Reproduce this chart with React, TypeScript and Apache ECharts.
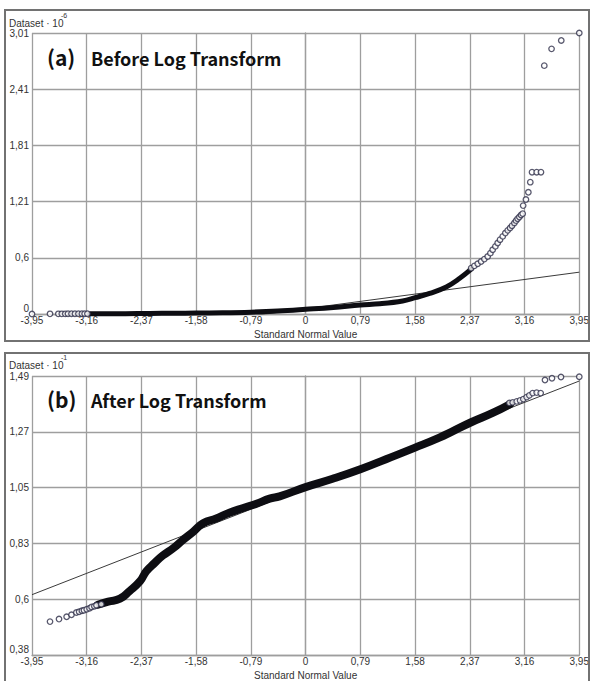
import React, { useEffect, useRef } from "react";
import * as echarts from "echarts";

// ---- axes ----
const xTickLabels = ["-3,95", "-3,16", "-2,37", "-1,58", "-0,79", "0", "0,79", "1,58", "2,37", "3,16", "3,95"];
const xMin = -3.95;
const xMax = 3.95;
const xStep = 0.79;

const aTickLabels = ["0", "0,6", "1,21", "1,81", "2,41", "3,01"];
const aMin = 0;
const aMax = 3.01;
const aStep = 0.602;

const bTickLabels = ["0,38", "0,6", "0,83", "1,05", "1,27", "1,49"];
const bMin = 0.38;
const bMax = 1.49;
const bStep = 0.222;

// ---- panel (a): before log transform ----
const aDenseX = [-3.11, -2.6, -2.25, -1.9, -1.58, -1.2, -0.79, -0.4, 0, 0.4, 0.79, 1.07, 1.4, 1.58, 1.79, 2.03, 2.22, 2.39];
const aDenseY = [0.003, 0.004, 0.006, 0.008, 0.01, 0.013, 0.02, 0.032, 0.05, 0.07, 0.097, 0.11, 0.14, 0.175, 0.22, 0.29, 0.38, 0.48];

const aPointX = [-3.95, -3.69, -3.57, -3.52, -3.47, -3.43, -3.38, -3.33, -3.28, -3.23, -3.19, -3.15,
  2.389, 2.436, 2.484, 2.533, 2.58, 2.628, 2.667, 2.7, 2.739, 2.772, 2.806, 2.845, 2.883, 2.917, 2.951, 2.979,
  3.013, 3.037, 3.06, 3.085, 3.109, 3.133, 3.14, 3.18, 3.215, 3.243, 3.268, 3.335, 3.397, 3.445, 3.55, 3.69, 3.95];
const aPointY = [0, 0.002, 0.002, 0.002, 0.002, 0.003, 0.003, 0.003, 0.003, 0.003, 0.003, 0.003,
  0.491, 0.516, 0.538, 0.562, 0.588, 0.616, 0.652, 0.688, 0.724, 0.76, 0.796, 0.831, 0.867, 0.896, 0.921, 0.946,
  0.975, 1.0, 1.021, 1.039, 1.061, 1.075, 1.161, 1.226, 1.304, 1.412, 1.519, 1.519, 1.519, 2.66, 2.84, 2.93, 3.01];

const aRefX = [-3.95, 3.95];
const aRefY = [-0.334, 0.448];

// ---- panel (b): after log transform ----
const bDenseX = [-3.0, -2.85, -2.68, -2.54, -2.39, -2.3, -2.18, -2.06, -1.91, -1.77, -1.62, -1.48, -1.29, -1.1, -0.9, -0.71, -0.52, -0.375, 0, 0.39, 0.8, 1.16, 1.58, 1.93, 2.12, 2.39, 2.7, 2.95];
const bDenseY = [0.58, 0.592, 0.604, 0.635, 0.674, 0.713, 0.746, 0.776, 0.805, 0.838, 0.871, 0.904, 0.923, 0.946, 0.965, 0.982, 1.002, 1.011, 1.048, 1.081, 1.12, 1.159, 1.205, 1.245, 1.27, 1.306, 1.343, 1.378];

const bPointX = [-3.69, -3.56, -3.45, -3.38, -3.31, -3.27, -3.23, -3.2, -3.16, -3.12, -3.09, -3.05, -3.02, -2.95,
  2.941, 2.989, 3.047, 3.095, 3.142, 3.19, 3.229, 3.277, 3.335, 3.393, 3.455, 3.556, 3.686, 3.95];
const bPointY = [0.513, 0.523, 0.532, 0.54, 0.549, 0.552, 0.556, 0.558, 0.562, 0.566, 0.571, 0.574, 0.578, 0.582,
  1.383, 1.385, 1.389, 1.393, 1.398, 1.406, 1.413, 1.422, 1.424, 1.422, 1.474, 1.481, 1.486, 1.487];

const bRefX = [-3.95, 3.95];
const bRefY = [0.62, 1.47];

const FONT = "Liberation Sans, Arial, sans-serif";
const TITLE_FONT = "Noto Sans CJK KR, Noto Sans, sans-serif";
const GRID_COLOR = "#9e9e9e";
const TEXT_COLOR = "#333";
const DOT_COLOR = "#2e2e48";

const zip = (xs: number[], ys: number[], off = 0) => xs.map((x, i) => [x, +(ys[i] - off).toFixed(4)]);

function xAxisFor(gridIndex: number) {
  return {
    type: "value",
    gridIndex,
    min: xMin,
    max: xMax,
    interval: xStep,
    name: "Standard Normal Value",
    nameLocation: "middle",
    nameGap: 15,
    nameTextStyle: { fontFamily: FONT, fontSize: 10, color: TEXT_COLOR },
    axisLine: { show: true, lineStyle: { color: GRID_COLOR, width: 1.3 } },
    axisTick: { show: false },
    splitLine: { show: true, lineStyle: { color: GRID_COLOR, width: 1.3 } },
    axisLabel: {
      showMinLabel: true,
      showMaxLabel: true,
      margin: 1,
      fontFamily: FONT,
      fontSize: 10,
      color: TEXT_COLOR,
      formatter: (v: number) => xTickLabels[Math.round((v - xMin) / xStep)] ?? "",
    },
  };
}

function yAxisFor(gridIndex: number, max: number, step: number, labels: string[]) {
  return {
    type: "value",
    gridIndex,
    min: 0,
    max,
    interval: step,
    axisLine: { show: true, lineStyle: { color: GRID_COLOR, width: 1.3 } },
    axisTick: { show: false },
    splitLine: { show: true, lineStyle: { color: GRID_COLOR, width: 1.3 } },
    axisLabel: {
      showMinLabel: true,
      showMaxLabel: true,
      margin: 3,
      fontFamily: FONT,
      fontSize: 10,
      color: TEXT_COLOR,
      formatter: (v: number) => {
        const i = Math.round(v / step);
        const t = labels[i] ?? "";
        return i === 0 ? "{lo|" + t + "}" : t;
      },
      rich: {
        lo: { fontFamily: FONT, fontSize: 10, color: TEXT_COLOR, padding: [0, 0, 11, 0] },
      },
    },
  };
}

export default function App() {
  const ref = useRef<HTMLDivElement>(null);
  useEffect(() => {
    const chart = echarts.init(ref.current!, null, { renderer: "svg" });
    const bRange = +(bMax - bMin).toFixed(3);
    const option: any = {
      animation: false,
      backgroundColor: "#fff",
      grid: [
        { left: 32, top: 33, width: 548, height: 281 },
        { left: 32, top: 376, width: 548, height: 282 },
      ],
      xAxis: [xAxisFor(0), xAxisFor(1)],
      yAxis: [
        yAxisFor(0, aMax - aMin, aStep, aTickLabels),
        yAxisFor(1, bRange, bStep, bTickLabels),
      ],
      series: [
        {
          type: "line", xAxisIndex: 0, yAxisIndex: 0, data: zip(aRefX, aRefY),
          showSymbol: false, clip: true, lineStyle: { color: "#3a3a3a", width: 1 }, z: 2,
        },
        {
          type: "line", xAxisIndex: 0, yAxisIndex: 0, data: zip(aDenseX, aDenseY),
          showSymbol: false, clip: false, smooth: 0.4,
          lineStyle: { color: "#0d0d12", width: 5, cap: "round", join: "round" }, z: 3,
        },
        {
          type: "scatter", xAxisIndex: 0, yAxisIndex: 0, data: zip(aPointX, aPointY),
          symbol: "circle", symbolSize: 5.5, clip: false,
          itemStyle: { color: "#fff", borderColor: DOT_COLOR, borderWidth: 1.3 }, z: 4,
        },
        {
          type: "line", xAxisIndex: 1, yAxisIndex: 1, data: zip(bRefX, bRefY, bMin),
          showSymbol: false, clip: true, lineStyle: { color: "#3a3a3a", width: 1 }, z: 2,
        },
        {
          type: "line", xAxisIndex: 1, yAxisIndex: 1, data: zip(bDenseX, bDenseY, bMin),
          showSymbol: false, clip: false, smooth: 0.5,
          lineStyle: { color: "#0d0d12", width: 8, cap: "round", join: "round" }, z: 3,
        },
        {
          type: "scatter", xAxisIndex: 1, yAxisIndex: 1, data: zip(bPointX, bPointY, bMin),
          symbol: "circle", symbolSize: 5.5, clip: false,
          itemStyle: { color: "#fff", borderColor: DOT_COLOR, borderWidth: 1.3 }, z: 4,
        },
      ],
      graphic: [
        { type: "rect", shape: { x: 5, y: 10, width: 584, height: 331 }, style: { fill: "none", stroke: "#727272", lineWidth: 2 }, z: 10 },
        { type: "rect", shape: { x: 5, y: 353, width: 584, height: 340 }, style: { fill: "none", stroke: "#727272", lineWidth: 2 }, z: 10 },
        { type: "text", x: 9, y: 23, style: { text: "Dataset · 10", fontFamily: FONT, fontSize: 10, fill: TEXT_COLOR, verticalAlign: "middle" }, z: 10 },
        { type: "text", x: 61, y: 15, style: { text: "-6", fontFamily: FONT, fontSize: 7, fill: TEXT_COLOR, verticalAlign: "middle" }, z: 10 },
        { type: "text", x: 9, y: 365, style: { text: "Dataset · 10", fontFamily: FONT, fontSize: 10, fill: TEXT_COLOR, verticalAlign: "middle" }, z: 10 },
        { type: "text", x: 61, y: 357, style: { text: "-1", fontFamily: FONT, fontSize: 7, fill: TEXT_COLOR, verticalAlign: "middle" }, z: 10 },
        { type: "text", x: 47, y: 57, style: { text: "(a)", fontFamily: TITLE_FONT, fontWeight: "bold", fontSize: 21, fill: "#111", verticalAlign: "middle" }, z: 10 },
        { type: "text", x: 91, y: 58, style: { text: "Before Log Transform", fontFamily: TITLE_FONT, fontWeight: "bold", fontSize: 18, fill: "#111", verticalAlign: "middle" }, z: 10 },
        { type: "text", x: 47, y: 399, style: { text: "(b)", fontFamily: TITLE_FONT, fontWeight: "bold", fontSize: 21, fill: "#111", verticalAlign: "middle" }, z: 10 },
        { type: "text", x: 91, y: 400, style: { text: "After Log Transform", fontFamily: TITLE_FONT, fontWeight: "bold", fontSize: 18, fill: "#111", verticalAlign: "middle" }, z: 10 },
      ],
    };
    chart.setOption(option);
    return () => chart.dispose();
  }, []);
  return (
    <div
      ref={ref}
      style={{ position: "fixed", left: 0, top: 0, width: 592, height: 681, background: "#fff" }}
    />
  );
}
